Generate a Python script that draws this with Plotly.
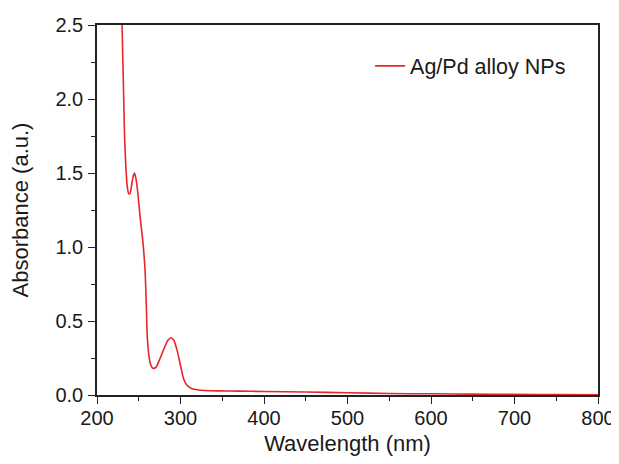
import plotly.graph_objects as go

wavelength = [230, 231, 232, 233, 234.5, 236, 238, 239.5, 241, 243, 245, 247, 249, 251.5, 254.7, 257.5,
              259, 260, 261.5, 263.5, 266, 268, 271, 275, 280, 285, 288.6, 292, 296, 300, 303, 306,
              310, 314, 320, 330, 345, 370, 400, 450, 500, 550, 600, 650, 700, 750, 800]
absorbance = [2.5, 2.25, 2.0, 1.75, 1.55, 1.42, 1.36, 1.36, 1.40, 1.47, 1.50, 1.45, 1.36, 1.21, 1.05, 0.85,
              0.62, 0.42, 0.30, 0.22, 0.185, 0.18, 0.19, 0.24, 0.31, 0.37, 0.387, 0.37, 0.30, 0.20, 0.124, 0.08,
              0.055, 0.042, 0.035, 0.03, 0.028, 0.026, 0.024, 0.02, 0.015, 0.01, 0.008, 0.006, 0.004, 0.003, 0.002]
series_name = "Ag/Pd alloy NPs"

fig = go.Figure()
fig.add_trace(go.Scatter(x=wavelength, y=absorbance, mode="lines", name=series_name,
                         line=dict(color="#e8262a", width=1.6, shape="spline", smoothing=0.5)))

fam = "Liberation Sans, Arial, sans-serif"
ink = "#1a1a1a"
fig.update_layout(
    width=611, height=448,
    margin=dict(l=89, r=21, t=17, b=61, autoexpand=False),
    paper_bgcolor="white", plot_bgcolor="white",
    font=dict(family=fam, size=20, color=ink),
    showlegend=True,
    legend=dict(x=0.545, y=0.945, xanchor="left", yanchor="top", bgcolor="rgba(0,0,0,0)",
                font=dict(family=fam, size=21.5, color=ink)),
    xaxis=dict(range=[200, 800], tickvals=[200, 300, 400, 500, 600, 700, 800], automargin=False,
               tickfont=dict(family=fam, size=20, color=ink), ticklabelstandoff=-3,
               ticks="outside", ticklen=7, tickwidth=1.2, tickcolor="#222",
               minor=dict(tickvals=[250, 350, 450, 550, 650, 750], ticks="outside", ticklen=4, tickcolor="#222"),
               showline=True, linecolor="#222", linewidth=1.5, mirror=True, showgrid=False, zeroline=False,
               title=dict(text="Wavelength (nm)", standoff=16, font=dict(family=fam, size=22, color=ink))),
    yaxis=dict(range=[0, 2.5], tickvals=[0, 0.5, 1.0, 1.5, 2.0, 2.5], tickformat=".1f", automargin=False,
               tickfont=dict(family=fam, size=20, color=ink), ticklabelstandoff=1,
               ticks="outside", ticklen=7, tickwidth=1.2, tickcolor="#222",
               minor=dict(tickvals=[0.25, 0.75, 1.25, 1.75, 2.25], ticks="outside", ticklen=4, tickcolor="#222"),
               showline=True, linecolor="#222", linewidth=1.5, mirror=True, showgrid=False, zeroline=False,
               title=dict(text="Absorbance (a.u.)", standoff=25, font=dict(family=fam, size=22, color=ink))),
)
fig.write_html("out.html")
